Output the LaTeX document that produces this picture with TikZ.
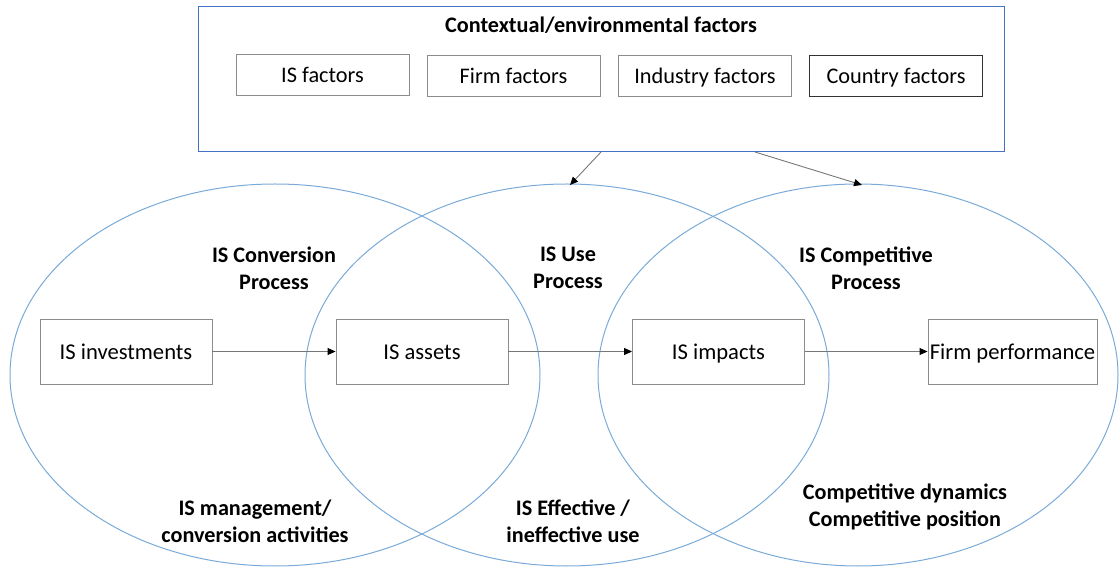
\documentclass[tikz,border=0pt]{standalone}
\usepackage{fontspec}
\setmainfont{Carlito}
\usetikzlibrary{arrows.meta}
\definecolor{ellblue}{HTML}{7AAAD8}
\definecolor{boxblue}{HTML}{4472C4}
\definecolor{boxgray}{HTML}{8C8C8C}
\definecolor{linegray}{HTML}{777777}
\tikzset{
  fbox/.style={draw=boxgray, line width=0.9pt, minimum width=173pt, minimum height=41pt, inner sep=0pt, text height=16.5pt, text depth=0.5pt, font=\fontsize{22.3}{26}\selectfont},
  pbox/.style={draw=boxgray, line width=0.9pt, minimum width=172pt, minimum height=65pt, inner sep=0pt, text height=16.5pt, text depth=0.5pt, font=\fontsize{22.6}{26}\selectfont},
  ell/.style={draw=ellblue, line width=1pt},
  lbl/.style={align=center, font=\bfseries\fontsize{22.2}{27}\selectfont},
  conn/.style={draw=linegray, line width=0.9pt, -{Triangle[length=8pt,width=7pt,fill=black,color=black]}},
}
\begin{document}
\begin{tikzpicture}[x=1pt,y=-1pt]
\useasboundingbox (0,0) rectangle (1120,569);
% ellipses
\draw[ell] (275,375) ellipse [x radius=265, y radius=191];
\draw[ell] (567,375) ellipse [x radius=262, y radius=191];
\draw[ell] (858,375) ellipse [x radius=260, y radius=191];
\coordinate (e2top) at (570,185);
\coordinate (e3top) at (862,185);
% top box
\node[draw=boxblue, line width=1pt, minimum width=806pt, minimum height=145pt, inner sep=0pt] (ctx) at (601,79.5) {};
\node[font=\bfseries\fontsize{22.2}{26}\selectfont] (ctxt) at (601,25) {Contextual/environmental factors};
\node[fbox] (isf) at (322.5,75) {IS factors};
\node[fbox] (firmf) at (513.5,76) {Firm factors};
\node[fbox] (indf) at (705,76) {Industry factors};
\node[fbox, draw=black!80] (cntf) at (896,76) {Country factors};
% arrows from context
\draw[conn] (601,152) -- (e2top);
\draw[conn] (755,152) -- (e3top);
% process boxes
\node[pbox] (inv) at (126,351.5) {IS investments};
\node[pbox] (ass) at (422,351.5) {IS assets};
\node[pbox] (imp) at (718.5,351.5) {IS impacts};
\node[pbox, minimum width=169pt] (perf) at (1012.5,351.5) {Firm performance};
\draw[conn] (inv) -- (ass);
\draw[conn] (ass) -- (imp);
\draw[conn] (imp) -- (perf);
% labels
\node[lbl] (l1) at (274,268) {IS Conversion\\Process};
\node[lbl] (l2) at (568,268) {IS Use\\Process};
\node[lbl] (l3) at (866,268) {IS Competitive\\Process};
\node[lbl] (b1) at (255,521) {IS management/\\conversion activities};
\node[lbl] (b2) at (573,521) {IS Effective /\\ineffective use};
\node[lbl] (b3) at (905,507) {Competitive dynamics\\Competitive position};
\end{tikzpicture}
\end{document}
